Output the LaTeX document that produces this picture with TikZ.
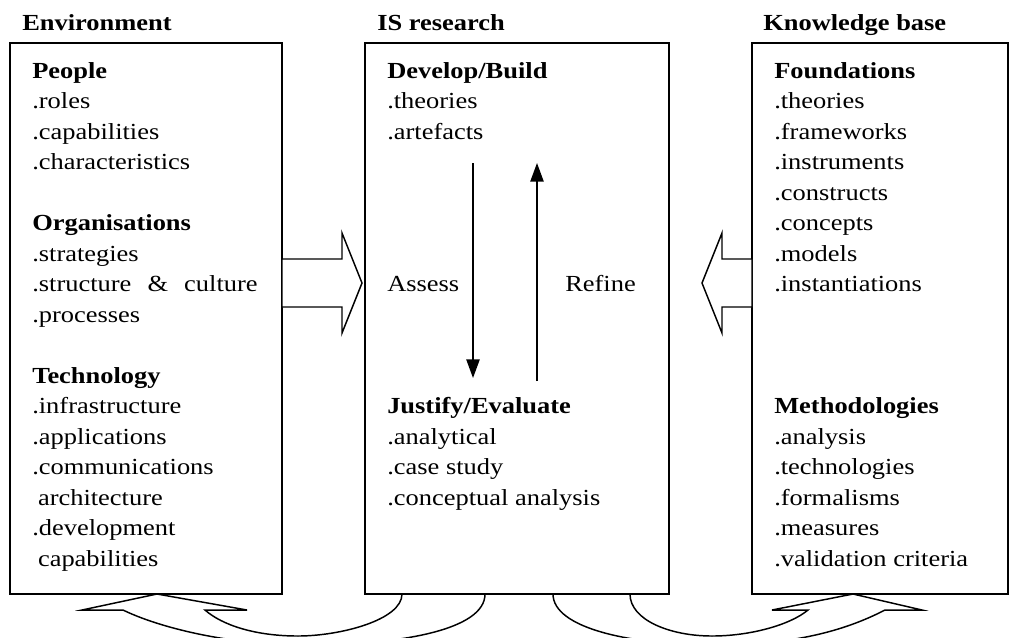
\documentclass[tikz,border=0pt]{standalone}
\usepackage{fontspec}
\setmainfont{Liberation Serif}[FakeStretch=1.15]
\usetikzlibrary{arrows.meta}
\newcommand\textblock[4]{\foreach \t [count=\i from 0] in {#4}{\node[txt] (#1-\i) at (#2,{#3+30.5*\i}) {\t};}}
\begin{document}
\begin{tikzpicture}[x=0.75pt,y=-0.75pt,
  box/.style={draw,line width=1.1pt,inner sep=0},
  txt/.style={anchor=base west,inner sep=0,font=\fontsize{17.25pt}{22.9pt}\selectfont},
  hd/.style={txt,font=\fontsize{17.25pt}{22.9pt}\selectfont\bfseries},
  blockarrow/.style={draw,line width=1.1pt,line join=miter,fill=white},
  band/.style={draw,line width=1.1pt,line join=miter},
  flow/.style={line width=1.1pt,-{Triangle[width=10pt,length=14pt]}}]
\useasboundingbox (0,0) rectangle (1012,637);

% boxes
\node[box,minimum width=204pt,minimum height=413.25pt] (env) at (146,318.5) {};
\node[box,minimum width=228pt,minimum height=413.25pt] (isr) at (517,318.5) {};
\node[box,minimum width=192pt,minimum height=413.25pt] (kb) at (880,318.5) {};

% headings
\node[hd] (henv) at (22,30) {Environment};
\node[hd] (hisr) at (377,30) {IS research};
\node[hd] (hkb) at (763,30) {Knowledge base};

% left box text
\textblock{peo}{32}{78}{\textbf{People},.roles,.capabilities,.characteristics}
\textblock{org}{32}{230.5}{\textbf{Organisations},.strategies,.structure\hspace{0.7em}\&\hspace{0.7em}culture,.processes}
\textblock{tec}{32}{383}{\textbf{Technology},.infrastructure,.applications,.communications,\hspace*{0.25em}architecture,.development,\hspace*{0.25em}capabilities}

% middle box text
\textblock{dev}{387}{78}{\textbf{Develop/Build},.theories,.artefacts}
\node[txt] (assess) at (387,291.5) {Assess};
\node[txt] (refine) at (565,291.5) {Refine};
\textblock{jus}{387}{413.5}{\textbf{Justify/Evaluate},.analytical,.case study,.conceptual analysis}

% right box text
\textblock{fnd}{774}{78}{\textbf{Foundations},.theories,.frameworks,.instruments,.constructs,.concepts,.models,.instantiations}
\textblock{met}{774}{413.5}{\textbf{Methodologies},.analysis,.technologies,.formalisms,.measures,.validation criteria}

% assess / refine arrows
\coordinate (as1) at (473,163);
\coordinate (as2) at (473,378);
\coordinate (rf1) at (537,381);
\coordinate (rf2) at (537,163);
\draw[flow] (as1) -- (as2);
\draw[flow] (rf1) -- (rf2);

% block arrows
\draw[blockarrow] (282,259) -- (342,259) -- (342,233) -- (362,283) -- (342,333) -- (342,307) -- (282,307) -- cycle;
\draw[blockarrow] (752,259) -- (722,259) -- (722,233) -- (702,283) -- (722,333) -- (722,307) -- (752,307) -- cycle;

% curved bottom arrows
\begin{scope}
\clip (0,0) rectangle (1012,637);
\draw[band] (157,594) -- (247,610) -- (205,610) .. controls (222,625) and (255,636) .. (298,636) .. controls (340,636) and (402,620) .. (402,594);
\draw[band] (485,594) .. controls (485,630) and (400,645) .. (305,645) .. controls (230,645) and (160,628) .. (123,610) -- (82,610) -- (157,594);
\draw[band] (853,594) -- (772,610) -- (808,610) .. controls (790,625) and (750,636) .. (712,636) .. controls (670,636) and (630,620) .. (630,594);
\draw[band] (553,594) .. controls (553,628) and (630,645) .. (715,645) .. controls (800,645) and (850,628) .. (885,610) -- (922,610) -- (853,594);
\end{scope}
\end{tikzpicture}
\end{document}
